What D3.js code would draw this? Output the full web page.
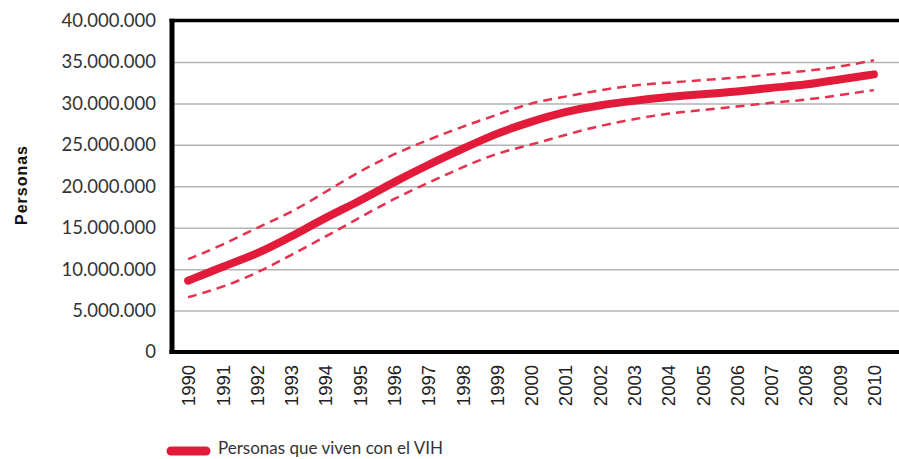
<!DOCTYPE html>
<html>
<head>
<meta charset="utf-8">
<script src="https://cdn.jsdelivr.net/npm/d3@7"></script>
<style>
  body { margin: 0; background: #fff; }
  svg { display: block; }
</style>
</head>
<body>
<script>
// years on the x axis
const years = d3.range(1990, 2011);

// people living with HIV (millions), central estimate and bounds
const estimate = [8.6, 10.3, 11.8, 13.9, 16.2, 18.2, 20.5, 22.6, 24.5, 26.4, 27.8,
                  29.0, 29.8, 30.3, 30.8, 31.1, 31.4, 31.9, 32.2, 32.9, 33.5];
const upperBound = [11.2, 12.9, 15.0, 16.8, 19.3, 21.8, 23.9, 25.6, 27.2, 28.6, 30.1,
                    30.8, 31.6, 32.2, 32.5, 32.8, 33.1, 33.5, 33.9, 34.4, 35.2];
const lowerBound = [6.6, 7.8, 9.5, 11.7, 13.9, 16.2, 18.5, 20.4, 22.3, 24.0, 25.0,
                    26.2, 27.3, 28.1, 28.8, 29.2, 29.6, 30.1, 30.4, 31.0, 31.6];

const yTicks = [0, 5, 10, 15, 20, 25, 30, 35, 40].map(d => d * 1e6);
const legendLabel = "Personas que viven con el VIH";
const yTitle = "Personas";

const width = 899;
const height = 459;
const plotLeft = 172;
const plotRight = 899;
const plotTop = 20.5;
const plotBottom = 352;
const red = "#e31b3b";

const locale = d3.formatLocale({decimal: ",", thousands: ".", grouping: [3], currency: ["", ""]});
const fmt = locale.format(",d");

let svg = d3.select("body")
  .append("svg")
    .attr("width", width)
    .attr("height", height);

let x = d3.scalePoint()
  .domain(years)
  .range([171, 891])
  .padding(0.5);

let y = d3.scaleLinear()
  .domain([0, 40e6])
  .range([plotBottom, plotTop]);

// GRID + Y AXIS
let yAxis = d3.axisLeft(y)
  .tickValues(yTicks)
  .tickSize(-(plotRight - plotLeft))
  .tickPadding(16)
  .tickFormat(d => d === 0 ? "0" : fmt(d));

svg.append("g")
    .attr("transform", `translate(${plotLeft},0)`)
  .call(yAxis)
  .call(g => g.select(".domain").remove())
  .call(g => g.selectAll(".tick line")
    .attr("stroke", "#b3b3b3")
    .attr("stroke-width", 1.5))
  .call(g => g.selectAll(".tick text")
    .attr("fill", "#333")
    .style("font-family", "Lato, 'Open Sans', sans-serif")
    .style("font-size", "18.5px"));

// X AXIS
let xAxis = d3.axisBottom(x).tickSize(0);

svg.append("g")
    .attr("transform", `translate(0,${plotBottom})`)
  .call(xAxis)
  .call(g => g.select(".domain").remove())
  .call(g => g.selectAll(".tick text")
    .attr("transform", "rotate(-90)")
    .attr("text-anchor", "end")
    .attr("x", -13)
    .attr("y", 0)
    .attr("dy", "0.36em")
    .attr("fill", "#222")
    .style("font-family", "'Liberation Sans', Arial, sans-serif")
    .style("font-size", "18.5px"));

// FRAME (left, top, bottom)
svg.append("line")
  .attr("x1", plotLeft).attr("x2", plotLeft)
  .attr("y1", plotTop - 1.75).attr("y2", plotBottom + 2)
  .attr("stroke", "#000").attr("stroke-width", 5);
svg.append("line")
  .attr("x1", plotLeft - 2.5).attr("x2", plotRight)
  .attr("y1", plotTop).attr("y2", plotTop)
  .attr("stroke", "#000").attr("stroke-width", 3.5);
svg.append("line")
  .attr("x1", plotLeft - 2.5).attr("x2", plotRight)
  .attr("y1", plotBottom).attr("y2", plotBottom)
  .attr("stroke", "#000").attr("stroke-width", 4);

// LINES
let line = d3.line()
  .x((d, i) => x(years[i]))
  .y(d => y(d * 1e6))
  .curve(d3.curveBasis);

[upperBound, lowerBound].forEach(series => {
  svg.append("path")
    .datum(series)
    .attr("d", line)
    .attr("fill", "none")
    .attr("stroke", "#e6304c")
    .attr("stroke-width", 2.5)
    .attr("stroke-dasharray", "9,6");
});

svg.append("path")
  .datum(estimate)
  .attr("d", line)
  .attr("fill", "none")
  .attr("stroke", red)
  .attr("stroke-width", 8)
  .attr("stroke-linecap", "round");

// Y TITLE
svg.append("text")
  .attr("transform", "translate(27,185) rotate(-90)")
  .attr("text-anchor", "middle")
  .attr("fill", "#111")
  .style("font-family", "'Liberation Sans', Arial, sans-serif")
  .style("font-weight", "bold")
  .style("font-size", "16px")
  .style("letter-spacing", "1px")
  .text(yTitle);

// LEGEND
let legend = svg.append("g").attr("id", "legend");
legend.append("line")
  .attr("x1", 171).attr("x2", 206)
  .attr("y1", 451).attr("y2", 451)
  .attr("stroke", red)
  .attr("stroke-width", 9)
  .attr("stroke-linecap", "round");
legend.append("text")
  .attr("x", 218)
  .attr("y", 454)
  .attr("fill", "#333")
  .style("font-family", "Lato, 'Open Sans', sans-serif")
  .style("font-size", "17px")
  .text(legendLabel);
</script>
</body>
</html>
